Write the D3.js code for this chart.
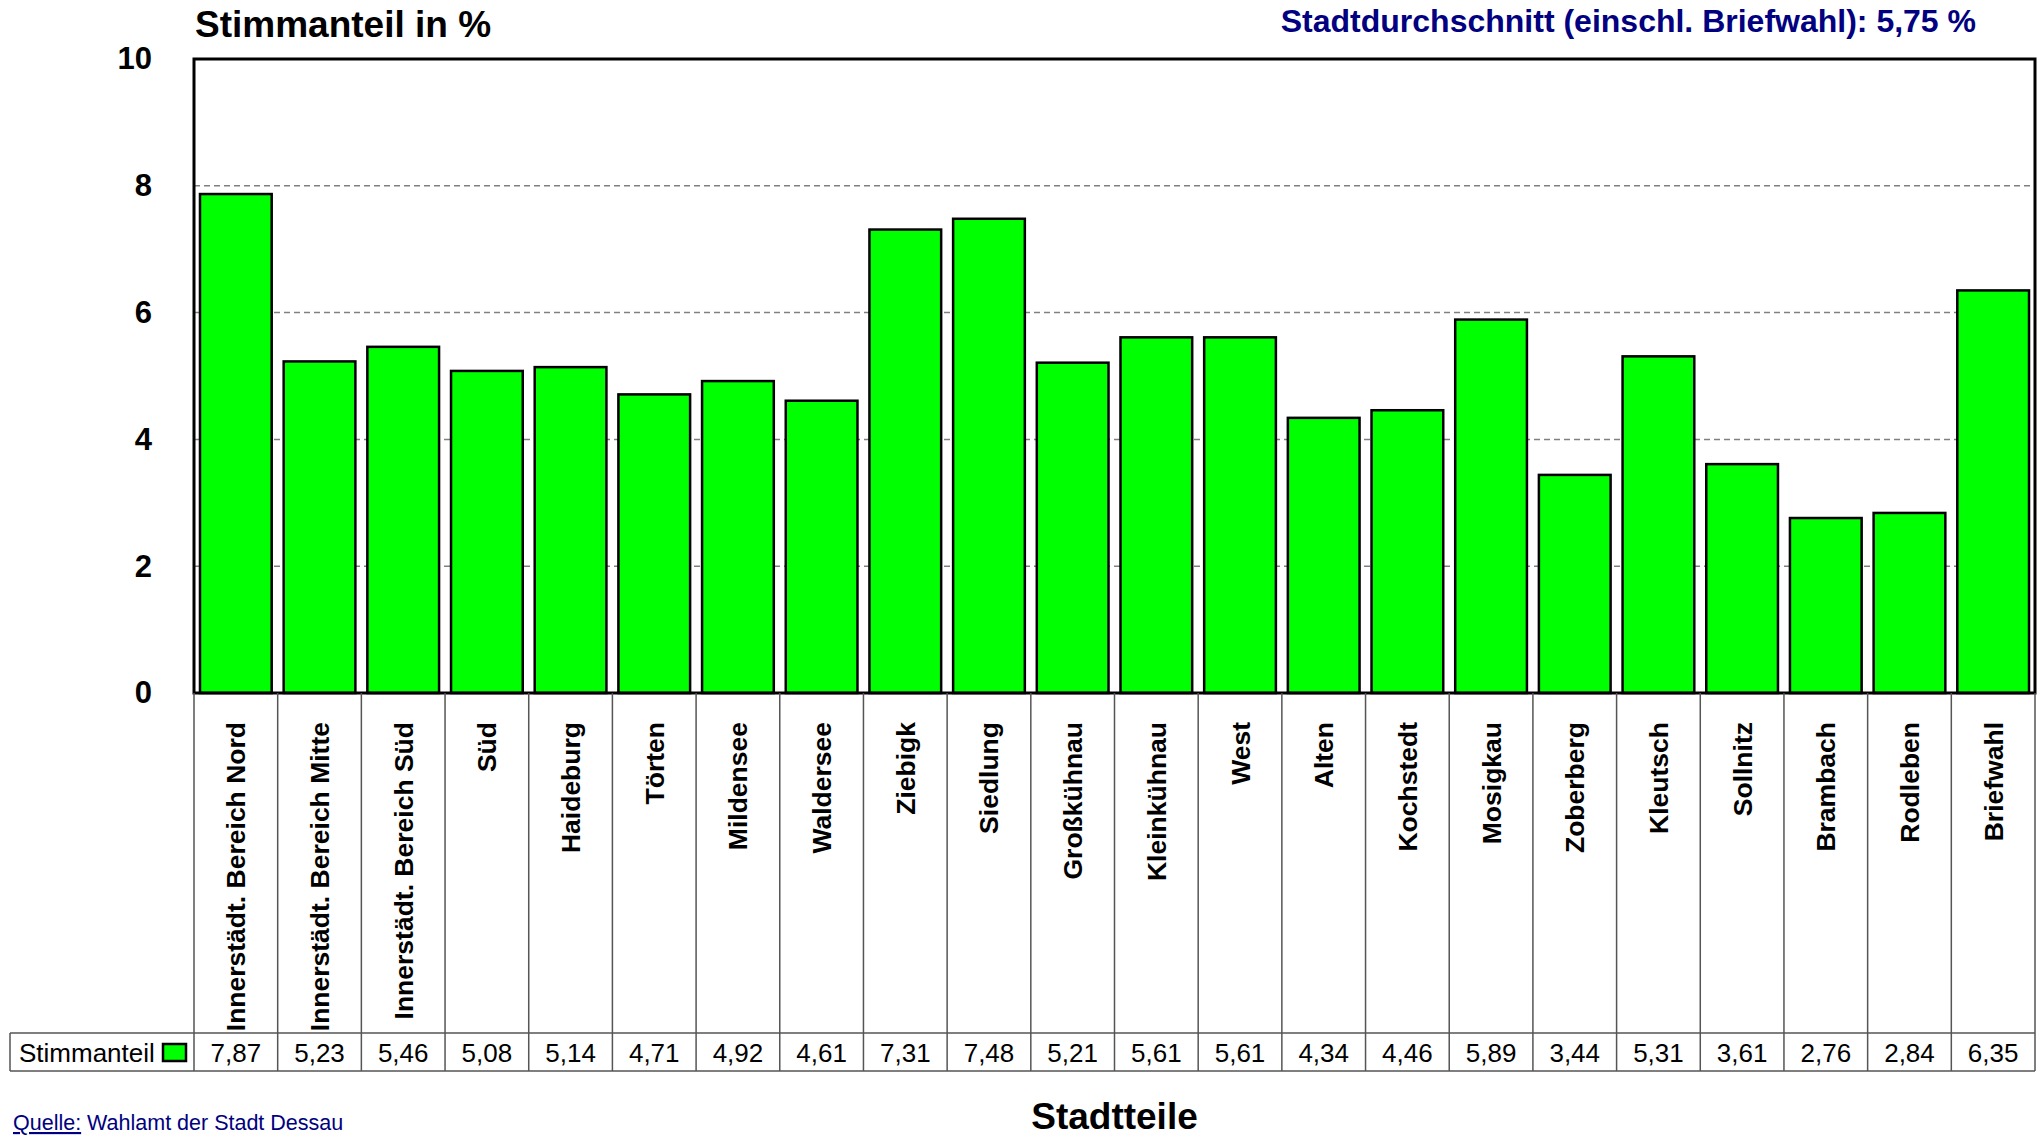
<!DOCTYPE html>
<html>
<head>
<meta charset="utf-8">
<script src="https://cdn.jsdelivr.net/npm/d3@7"></script>
<style>
  body { margin: 0; background: #fff; }
  svg { display: block; font-family: "Liberation Sans", Arial, sans-serif; }
</style>
</head>
<body>
<div id="graph"></div>
<script>
// data
let categories = ["Innerstädt. Bereich Nord", "Innerstädt. Bereich Mitte", "Innerstädt. Bereich Süd", "Süd",
  "Haideburg", "Törten", "Mildensee", "Waldersee", "Ziebigk", "Siedlung", "Großkühnau", "Kleinkühnau",
  "West", "Alten", "Kochstedt", "Mosigkau", "Zoberberg", "Kleutsch", "Sollnitz", "Brambach", "Rodleben", "Briefwahl"];
let values = [7.87, 5.23, 5.46, 5.08, 5.14, 4.71, 4.92, 4.61, 7.31, 7.48, 5.21, 5.61,
  5.61, 4.34, 4.46, 5.89, 3.44, 5.31, 3.61, 2.76, 2.84, 6.35];
let yTicks = [0, 2, 4, 6, 8, 10];
let seriesName = "Stimmanteil";
let avgText = "Stadtdurchschnitt (einschl. Briefwahl): 5,75 %";

let W = 2043, H = 1138;
let margin = {top: 59, right: 8, bottom: 445, left: 194},
    width = W - margin.left - margin.right,
    height = H - margin.top - margin.bottom;
let labelBottom = 1033, rowBottom = 1071, tableLeft = 10;

let fmt = v => d3.format(".2f")(v).replace(".", ",");

let svg = d3.select("#graph").append("svg")
    .attr("width", W)
    .attr("height", H);

let x = d3.scaleBand().domain(categories).range([0, width]).paddingInner(0.143).paddingOuter(0.0715);
let cols = d3.scaleBand().domain(categories).range([0, width]);
let y = d3.scaleLinear().domain([0, 10]).range([height, 0]);

let g = svg.append("g")
    .attr("transform", "translate(" + margin.left + "," + margin.top + ")");

// dashed grid
g.selectAll(".grid").data(yTicks.filter(t => t > 0 && t < 10)).enter().append("line")
    .attr("x1", 0).attr("x2", width)
    .attr("y1", d => y(d)).attr("y2", d => y(d))
    .attr("stroke", "#808080").attr("stroke-width", 1.5)
    .attr("stroke-dasharray", "6,4");

// bars
g.selectAll(".bar").data(values).enter().append("rect")
    .attr("x", (d, i) => x(categories[i]))
    .attr("width", x.bandwidth())
    .attr("y", d => y(d))
    .attr("height", d => height - y(d))
    .attr("fill", "#00ff00")
    .attr("stroke", "#000")
    .attr("stroke-width", 2.5);

// frame
g.append("rect")
    .attr("x", 0).attr("y", 0).attr("width", width).attr("height", height)
    .attr("fill", "none").attr("stroke", "#000").attr("stroke-width", 3);

// y axis
let yAxis = g.append("g").call(d3.axisLeft(y).tickValues(yTicks).tickSize(0).tickPadding(42).tickFormat(d3.format("d")));
yAxis.select(".domain").remove();
yAxis.selectAll("text")
    .attr("font-size", 31).attr("font-weight", "bold")
    .attr("font-family", "Liberation Sans, Arial, sans-serif").attr("fill", "#000");

// table under the chart
let t = svg.append("g").attr("transform", "translate(" + margin.left + ",0)");
t.selectAll(".vline").data(categories.concat(["end"])).enter().append("line")
    .attr("x1", (d, i) => i * cols.step()).attr("x2", (d, i) => i * cols.step())
    .attr("y1", margin.top + height).attr("y2", rowBottom)
    .attr("stroke", "#555").attr("stroke-width", 1.5);

svg.append("line").attr("x1", tableLeft).attr("x2", margin.left + width)
    .attr("y1", labelBottom).attr("y2", labelBottom).attr("stroke", "#555").attr("stroke-width", 1.5);
svg.append("line").attr("x1", tableLeft).attr("x2", margin.left + width)
    .attr("y1", rowBottom).attr("y2", rowBottom).attr("stroke", "#555").attr("stroke-width", 1.5);
svg.append("line").attr("x1", tableLeft).attr("x2", tableLeft)
    .attr("y1", labelBottom).attr("y2", rowBottom).attr("stroke", "#555").attr("stroke-width", 1.5);

// rotated category labels
t.selectAll(".cat").data(categories).enter().append("text")
    .attr("transform", d => "translate(" + (cols(d) + cols.bandwidth() / 2 + 9.5) + "," + 722 + ") rotate(-90)")
    .attr("text-anchor", "end")
    .attr("font-size", 26.5).attr("font-weight", "bold")
    .text(d => d);

// values row
t.selectAll(".val").data(values).enter().append("text")
    .attr("x", (d, i) => cols(categories[i]) + cols.bandwidth() / 2)
    .attr("y", 1062)
    .attr("text-anchor", "middle")
    .attr("font-size", 26)
    .text(d => fmt(d));

// legend cell
svg.append("text").attr("x", 19).attr("y", 1062).attr("font-size", 26).text(seriesName);
svg.append("rect").attr("x", 163).attr("y", 1044).attr("width", 23).attr("height", 17)
    .attr("fill", "#00ff00").attr("stroke", "#000").attr("stroke-width", 2.5);

// titles
svg.append("text").attr("x", 195).attr("y", 37)
    .attr("font-size", 37).attr("font-weight", "bold").text("Stimmanteil in %");
svg.append("text").attr("x", 1976).attr("y", 32).attr("text-anchor", "end")
    .attr("font-size", 32).attr("font-weight", "bold").attr("fill", "#000080").text(avgText);
svg.append("text").attr("x", margin.left + width / 2).attr("y", 1129).attr("text-anchor", "middle")
    .attr("font-size", 37).attr("font-weight", "bold").text("Stadtteile");

// source
let src = svg.append("text").attr("x", 13).attr("y", 1130).attr("font-size", 21.5).attr("fill", "#000080");
src.append("tspan").attr("text-decoration", "underline").text("Quelle:");
src.append("tspan").text(" Wahlamt der Stadt Dessau");
</script>
</body>
</html>
